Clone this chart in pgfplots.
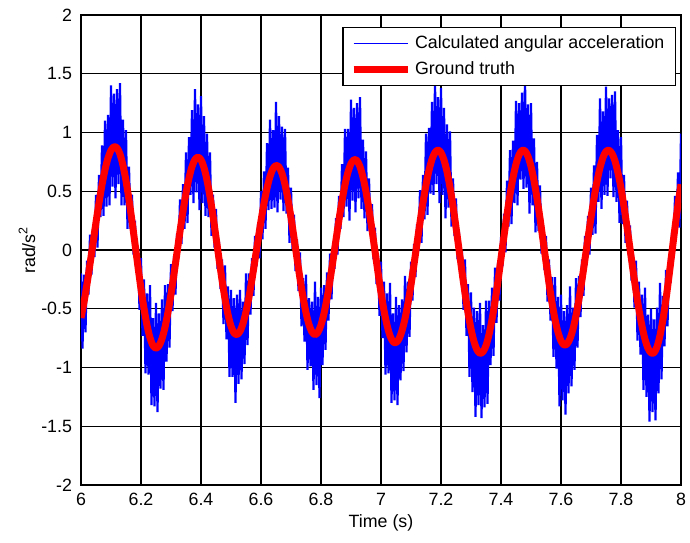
\documentclass[border=0pt]{standalone}
\usepackage{fontspec}
\setmainfont{Liberation Sans}
\usepackage{pgfplots}
\pgfplotsset{compat=1.18}
\begin{document}
\begin{tikzpicture}
\path[use as bounding box] (-40.5pt,-28.5pt) rectangle (304.5pt,242.5pt);
\begin{axis}[
  at={(0,0)}, anchor=south west,
  scale only axis, width=300pt, height=235pt,
  xmin=6, xmax=8, ymin=-2, ymax=2,
  xtick={6,6.2,...,8.01}, ytick={-2,-1.5,...,2.01},
  xticklabels={6,6.2,6.4,6.6,6.8,7,7.2,7.4,7.6,7.8,8},
  yticklabels={-2,-1.5,-1,-0.5,0,0.5,1,1.5,2},
  font=\fontsize{8.9}{10.5}\selectfont,
  grid=major, major grid style={black, line width=0.6pt},
  axis line style={black, line width=0.6pt},
  tick align=inside, major tick length=2.5pt,
  tick style={black, line width=0.5pt},
  xticklabel style={yshift=-0.5pt},
  yticklabel style={xshift=-1pt},
  every axis y label/.style={at={(axis description cs:-0.09,0.5)}, rotate=90, anchor=center},
  every axis x label/.style={at={(axis description cs:0.5,-0.081)}, anchor=center},
  xlabel={Time (s)}, ylabel={rad/s\textsuperscript{2}},
  legend cell align=left,
  legend style={at={(axis description cs:0.9917,0.9745)}, anchor=north east,
    draw=black, line width=0.6pt, fill=white, inner xsep=3.5pt, inner ysep=2pt,
    font=\fontsize{8.9}{10.5}\selectfont, row sep=1pt},
  legend image code/.code={\draw[#1] (0pt,0pt) -- (27pt,0pt);},
]
\addlegendimage{blue, line width=0.5pt}
\addlegendentry{Calculated angular acceleration}
\addlegendimage{red, line width=3.5pt}
\addlegendentry{Ground truth}
\addplot[blue, line width=1.1pt, forget plot] coordinates {
(6.000,-0.20) (6.005,-0.84) (6.010,-0.21) (6.015,-0.70) (6.020,-0.09) (6.025,-0.38) (6.030,0.13) (6.035,-0.21) (6.040,0.18) (6.045,-0.06)
(6.050,0.47) (6.055,0.02) (6.060,0.64) (6.065,0.28) (6.070,0.89) (6.075,0.29) (6.080,1.10) (6.085,0.37) (6.090,1.15) (6.095,0.38)
(6.100,1.40) (6.105,0.54) (6.110,1.33) (6.115,0.44) (6.120,1.37) (6.125,0.56) (6.130,1.42) (6.135,0.38) (6.140,1.11) (6.145,0.38)
(6.150,1.02) (6.155,0.18) (6.160,0.71) (6.165,0.18) (6.170,0.47) (6.175,-0.04) (6.180,0.25) (6.185,-0.19) (6.190,0.02) (6.195,-0.51)
(6.200,-0.07) (6.205,-0.73) (6.210,-0.25) (6.215,-1.05) (6.220,-0.37) (6.225,-1.06) (6.230,-0.30) (6.235,-1.32) (6.240,-0.58) (6.245,-1.33)
(6.250,-0.45) (6.255,-1.38) (6.260,-0.54) (6.265,-1.18) (6.270,-0.42) (6.275,-1.19) (6.280,-0.30) (6.285,-0.95) (6.290,-0.29) (6.295,-0.83)
(6.300,-0.12) (6.305,-0.52) (6.310,-0.05) (6.315,-0.38) (6.320,0.14) (6.325,-0.07) (6.330,0.43) (6.335,0.05) (6.340,0.56) (6.345,0.18)
(6.350,0.83) (6.355,0.23) (6.360,0.96) (6.365,0.47) (6.370,1.19) (6.375,0.40) (6.380,1.37) (6.385,0.49) (6.390,1.24) (6.395,0.34)
(6.400,1.31) (6.405,0.40) (6.410,1.14) (6.415,0.29) (6.420,0.99) (6.425,0.28) (6.430,0.83) (6.435,0.12) (6.440,0.47) (6.445,0.02)
(6.450,0.35) (6.455,-0.16) (6.460,0.07) (6.465,-0.33) (6.470,-0.08) (6.475,-0.63) (6.480,-0.13) (6.485,-0.76) (6.490,-0.31) (6.495,-1.08)
(6.500,-0.34) (6.505,-1.08) (6.510,-0.41) (6.515,-1.30) (6.520,-0.38) (6.525,-1.14) (6.530,-0.34) (6.535,-1.10) (6.540,-0.44) (6.545,-0.97)
(6.550,-0.20) (6.555,-0.81) (6.560,-0.20) (6.565,-0.55) (6.570,-0.07) (6.575,-0.39) (6.580,0.12) (6.585,-0.14) (6.590,0.22) (6.595,-0.07)
(6.600,0.50) (6.605,0.09) (6.610,0.67) (6.615,0.18) (6.620,0.91) (6.625,0.34) (6.630,1.11) (6.635,0.35) (6.640,1.02) (6.645,0.36)
(6.650,1.26) (6.655,0.32) (6.660,1.14) (6.665,0.43) (6.670,1.05) (6.675,0.33) (6.680,1.03) (6.685,0.31) (6.690,0.70) (6.695,0.06)
(6.700,0.53) (6.705,0.01) (6.710,0.30) (6.715,-0.18) (6.720,0.09) (6.725,-0.35) (6.730,-0.02) (6.735,-0.65) (6.740,-0.24) (6.745,-0.78)
(6.750,-0.21) (6.755,-1.02) (6.760,-0.41) (6.765,-0.99) (6.770,-0.44) (6.775,-1.19) (6.780,-0.27) (6.785,-1.15) (6.790,-0.40) (6.795,-1.26)
(6.800,-0.32) (6.805,-0.98) (6.810,-0.30) (6.815,-0.85) (6.820,-0.19) (6.825,-0.60) (6.830,-0.03) (6.835,-0.42) (6.840,0.03) (6.845,-0.16)
(6.850,0.27) (6.855,-0.04) (6.860,0.46) (6.865,0.18) (6.870,0.73) (6.875,0.28) (6.880,1.03) (6.885,0.37) (6.890,1.03) (6.895,0.25)
(6.900,1.28) (6.905,0.42) (6.910,1.21) (6.915,0.32) (6.920,1.25) (6.925,0.44) (6.930,1.30) (6.935,0.35) (6.940,0.94) (6.945,0.27)
(6.950,0.84) (6.955,0.16) (6.960,0.61) (6.965,0.13) (6.970,0.39) (6.975,-0.08) (6.980,0.19) (6.985,-0.29) (6.990,-0.04) (6.995,-0.56)
(7.000,-0.10) (7.005,-0.75) (7.010,-0.27) (7.015,-1.06) (7.020,-0.37) (7.025,-1.05) (7.030,-0.28) (7.035,-1.30) (7.040,-0.54) (7.045,-1.28)
(7.050,-0.40) (7.055,-1.32) (7.060,-0.47) (7.065,-1.11) (7.070,-0.42) (7.075,-1.03) (7.080,-0.22) (7.085,-0.87) (7.090,-0.27) (7.095,-0.74)
(7.100,-0.10) (7.105,-0.43) (7.110,0.05) (7.115,-0.23) (7.120,0.22) (7.125,-0.01) (7.130,0.51) (7.135,0.06) (7.140,0.64) (7.145,0.26)
(7.150,0.99) (7.155,0.30) (7.160,1.04) (7.165,0.48) (7.170,1.26) (7.175,0.47) (7.180,1.43) (7.185,0.56) (7.190,1.30) (7.195,0.40)
(7.200,1.38) (7.205,0.47) (7.210,1.21) (7.215,0.27) (7.220,1.07) (7.225,0.36) (7.230,1.01) (7.235,0.20) (7.240,0.61) (7.245,0.12)
(7.250,0.44) (7.255,-0.08) (7.260,0.15) (7.265,-0.21) (7.270,-0.01) (7.275,-0.51) (7.280,-0.08) (7.285,-0.73) (7.290,-0.29) (7.295,-1.08)
(7.300,-0.36) (7.305,-1.21) (7.310,-0.49) (7.315,-1.42) (7.320,-0.52) (7.325,-1.32) (7.330,-0.45) (7.335,-1.43) (7.340,-0.64) (7.345,-1.34)
(7.350,-0.43) (7.355,-1.31) (7.360,-0.43) (7.365,-0.98) (7.370,-0.32) (7.375,-0.90) (7.380,-0.15) (7.385,-0.62) (7.390,-0.11) (7.395,-0.43)
(7.400,0.11) (7.405,-0.14) (7.410,0.31) (7.415,-0.02) (7.420,0.59) (7.425,0.20) (7.430,0.85) (7.435,0.22) (7.440,0.93) (7.445,0.40)
(7.450,1.27) (7.455,0.38) (7.460,1.25) (7.465,0.60) (7.470,1.34) (7.475,0.52) (7.480,1.45) (7.485,0.53) (7.490,1.24) (7.495,0.31)
(7.500,1.25) (7.505,0.38) (7.510,0.95) (7.515,0.15) (7.520,0.75) (7.525,0.16) (7.530,0.55) (7.535,-0.03) (7.540,0.21) (7.545,-0.17)
(7.550,0.12) (7.555,-0.44) (7.560,-0.08) (7.565,-0.60) (7.570,-0.23) (7.575,-0.91) (7.580,-0.23) (7.585,-1.01) (7.590,-0.40) (7.595,-1.33)
(7.600,-0.38) (7.605,-1.28) (7.610,-0.52) (7.615,-1.40) (7.620,-0.47) (7.625,-1.22) (7.630,-0.31) (7.635,-1.16) (7.640,-0.49) (7.645,-1.02)
(7.650,-0.24) (7.655,-0.83) (7.660,-0.22) (7.665,-0.57) (7.670,-0.08) (7.675,-0.39) (7.680,0.12) (7.685,-0.13) (7.690,0.29) (7.695,-0.04)
(7.700,0.53) (7.705,0.13) (7.710,0.72) (7.715,0.14) (7.720,0.98) (7.725,0.41) (7.730,1.29) (7.735,0.35) (7.740,1.18) (7.745,0.47)
(7.750,1.39) (7.755,0.46) (7.760,1.29) (7.765,0.61) (7.770,1.32) (7.775,0.45) (7.780,1.35) (7.785,0.41) (7.790,1.02) (7.795,0.23)
(7.800,0.96) (7.805,0.22) (7.810,0.64) (7.815,0.06) (7.820,0.42) (7.825,-0.04) (7.830,0.21) (7.835,-0.26) (7.840,-0.04) (7.845,-0.49)
(7.850,-0.09) (7.855,-0.77) (7.860,-0.27) (7.865,-0.89) (7.870,-0.38) (7.875,-1.19) (7.880,-0.32) (7.885,-1.25) (7.890,-0.55) (7.895,-1.46)
(7.900,-0.50) (7.905,-1.38) (7.910,-0.59) (7.915,-1.45) (7.920,-0.49) (7.925,-1.22) (7.930,-0.28) (7.935,-1.10) (7.940,-0.39) (7.945,-0.82)
(7.950,-0.17) (7.955,-0.65) (7.960,-0.07) (7.965,-0.28) (7.970,0.15) (7.975,-0.07) (7.980,0.46) (7.985,0.15) (7.990,0.66) (7.995,0.19)
(8.000,0.99)
};
\addplot[red, line width=3.5pt, smooth, line join=round, forget plot] coordinates {
(6.00,-0.578) (6.01,-0.445) (6.02,-0.289) (6.03,-0.119) (6.04,0.058) (6.05,0.235) (6.06,0.402) (6.07,0.554) (6.08,0.683) (6.09,0.782)
(6.10,0.848) (6.11,0.878) (6.12,0.869) (6.13,0.816) (6.14,0.720) (6.15,0.589) (6.16,0.428) (6.17,0.246) (6.18,0.053) (6.19,-0.144)
(6.20,-0.331) (6.21,-0.498) (6.22,-0.640) (6.23,-0.747) (6.24,-0.813) (6.25,-0.835) (6.26,-0.815) (6.27,-0.755) (6.28,-0.658) (6.29,-0.529)
(6.30,-0.375) (6.31,-0.204) (6.32,-0.023) (6.33,0.159) (6.34,0.330) (6.35,0.484) (6.36,0.613) (6.37,0.710) (6.38,0.770) (6.39,0.790)
(6.40,0.767) (6.41,0.701) (6.42,0.594) (6.43,0.455) (6.44,0.289) (6.45,0.109) (6.46,-0.075) (6.47,-0.254) (6.48,-0.415) (6.49,-0.549)
(6.50,-0.648) (6.51,-0.706) (6.52,-0.719) (6.53,-0.692) (6.54,-0.626) (6.55,-0.526) (6.56,-0.398) (6.57,-0.248) (6.58,-0.084) (6.59,0.084)
(6.60,0.248) (6.61,0.398) (6.62,0.526) (6.63,0.626) (6.64,0.692) (6.65,0.719) (6.66,0.706) (6.67,0.651) (6.68,0.557) (6.69,0.429)
(6.70,0.276) (6.71,0.105) (6.72,-0.071) (6.73,-0.243) (6.74,-0.400) (6.75,-0.534) (6.76,-0.635) (6.77,-0.698) (6.78,-0.720) (6.79,-0.699)
(6.80,-0.638) (6.81,-0.540) (6.82,-0.412) (6.83,-0.258) (6.84,-0.089) (6.85,0.086) (6.86,0.259) (6.87,0.418) (6.88,0.555) (6.89,0.663)
(6.90,0.735) (6.91,0.768) (6.92,0.760) (6.93,0.709) (6.94,0.619) (6.95,0.495) (6.96,0.343) (6.97,0.171) (6.98,-0.010) (6.99,-0.191)
(7.00,-0.363) (7.01,-0.515) (7.02,-0.639) (7.03,-0.729) (7.04,-0.780) (7.05,-0.788) (7.06,-0.756) (7.07,-0.687) (7.08,-0.584) (7.09,-0.451)
(7.10,-0.295) (7.11,-0.122) (7.12,0.057) (7.13,0.235) (7.14,0.404) (7.15,0.554) (7.16,0.678) (7.17,0.772) (7.18,0.830) (7.19,0.850)
(7.20,0.829) (7.21,0.766) (7.22,0.667) (7.23,0.533) (7.24,0.373) (7.25,0.193) (7.26,0.005) (7.27,-0.186) (7.28,-0.368) (7.29,-0.533)
(7.30,-0.672) (7.31,-0.780) (7.32,-0.850) (7.33,-0.879) (7.34,-0.866) (7.35,-0.813) (7.36,-0.719) (7.37,-0.592) (7.38,-0.437) (7.39,-0.261)
(7.40,-0.072) (7.41,0.119) (7.42,0.302) (7.43,0.471) (7.44,0.616) (7.45,0.731) (7.46,0.809) (7.47,0.847) (7.48,0.843) (7.49,0.796)
(7.50,0.711) (7.51,0.590) (7.52,0.440) (7.53,0.270) (7.54,0.085) (7.55,-0.101) (7.56,-0.283) (7.57,-0.448) (7.58,-0.590) (7.59,-0.700)
(7.60,-0.774) (7.61,-0.808) (7.62,-0.800) (7.63,-0.754) (7.64,-0.672) (7.65,-0.558) (7.66,-0.416) (7.67,-0.253) (7.68,-0.078) (7.69,0.101)
(7.70,0.276) (7.71,0.440) (7.72,0.584) (7.73,0.701) (7.74,0.788) (7.75,0.838) (7.76,0.849) (7.77,0.821) (7.78,0.757) (7.79,0.655)
(7.80,0.525) (7.81,0.368) (7.82,0.196) (7.83,0.012) (7.84,-0.172) (7.85,-0.349) (7.86,-0.510) (7.87,-0.648) (7.88,-0.760) (7.89,-0.836)
(7.90,-0.875) (7.91,-0.874) (7.92,-0.824) (7.93,-0.727) (7.94,-0.588) (7.95,-0.417) (7.96,-0.222) (7.97,-0.015) (7.98,0.192) (7.99,0.387)
(8.00,0.559)
};
\end{axis}
\end{tikzpicture}
\end{document}
